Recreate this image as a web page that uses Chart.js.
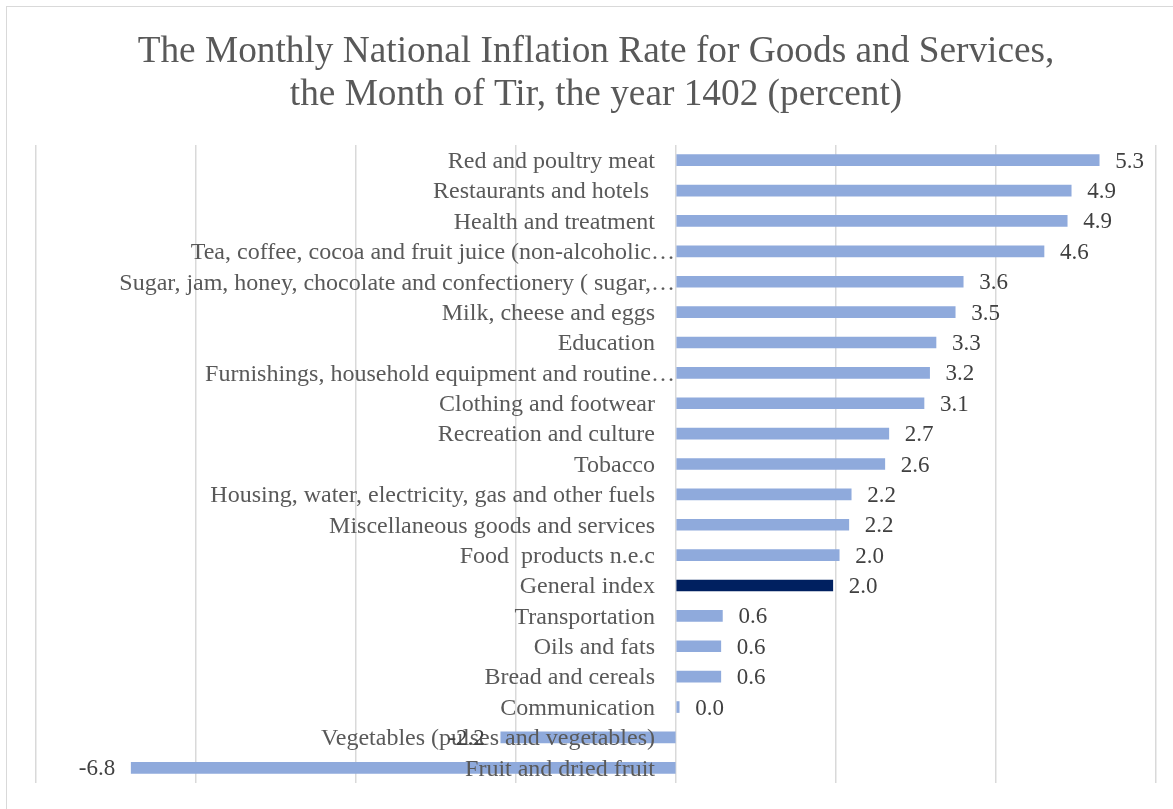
<!DOCTYPE html>
<html>
<head>
<meta charset="utf-8">
<script src="https://cdn.jsdelivr.net/npm/chart.js@4.4.0/dist/chart.umd.min.js"></script>
<style>
    html, body { margin: 0; padding: 0; background: #fff; }
    #wrap { width: 1173px; height: 809px; position: relative; }
</style>
</head>
<body>
<div id="wrap"><canvas id="chart"></canvas></div>
<script>
const titleLines = [
    'The Monthly National Inflation Rate for Goods and Services,',
    'the Month of Tir, the year 1402 (percent)'
]
const categories = [
    'Red and poultry meat',
    'Restaurants and hotels ',
    'Health and treatment',
    'Tea, coffee, cocoa and fruit juice (non-alcoholic…',
    'Sugar, jam, honey, chocolate and confectionery ( sugar,…',
    'Milk, cheese and eggs',
    'Education',
    'Furnishings, household equipment and routine…',
    'Clothing and footwear',
    'Recreation and culture',
    'Tobacco',
    'Housing, water, electricity, gas and other fuels',
    'Miscellaneous goods and services',
    'Food  products n.e.c',
    'General index',
    'Transportation',
    'Oils and fats',
    'Bread and cereals',
    'Communication',
    'Vegetables (pulses and vegetables)',
    'Fruit and dried fruit'
]
const rates = [5.29, 4.94, 4.89, 4.6, 3.59, 3.49, 3.25, 3.17, 3.1, 2.66, 2.61,
    2.19, 2.16, 2.04, 1.96, 0.58, 0.56, 0.56, 0.04, -2.19, -6.81]
const highlight = 'General index'
const xTicks = [-8, 6]

const serif = "'Liberation Serif', 'Times New Roman', serif"

const frame = {
    id: 'frame',
    beforeDraw(chart) {
        const c = chart.ctx
        c.save()
        c.fillStyle = '#fff'
        c.fillRect(0, 0, chart.width, chart.height)
        c.strokeStyle = '#d9d9d9'
        c.lineWidth = 1
        c.strokeRect(6.5, 6.5, chart.width + 20, chart.height + 20)
        c.fillStyle = '#595959'
        c.font = '37.3px ' + serif
        c.textAlign = 'center'
        c.textBaseline = 'alphabetic'
        titleLines.forEach((t, i) => c.fillText(t, 596, 62 + i * 43))
        c.restore()
    }
}

const labels = {
    id: 'labels',
    afterDatasetsDraw(chart) {
        const c = chart.ctx
        const x0 = chart.scales.x.getPixelForValue(0)
        const meta = chart.getDatasetMeta(0)
        c.save()
        c.textBaseline = 'middle'
        categories.forEach((name, i) => {
            const y = chart.scales.y.getPixelForValue(i) + 1.5
            c.font = '24px ' + serif
            c.fillStyle = '#595959'
            c.textAlign = 'right'
            c.fillText(name, name.endsWith('…') ? x0 - 1 : x0 - 21, y)
            const bar = meta.data[i]
            const v = rates[i]
            c.font = '23px ' + serif
            c.fillStyle = '#404040'
            if (v >= 0) {
                c.textAlign = 'left'
                c.fillText(v.toFixed(1), bar.x + 16, y)
            } else {
                c.textAlign = 'right'
                c.fillText(v.toFixed(1), bar.x - 16, y)
            }
        })
        c.restore()
    }
}

new Chart(document.getElementById('chart'), {
    type: 'bar',
    data: {
        labels: categories,
        datasets: [{
            data: rates,
            backgroundColor: categories.map(n => n === highlight ? '#002060' : '#8faadc'),
            barThickness: 11
        }]
    },
    options: {
        indexAxis: 'y',
        responsive: true,
        maintainAspectRatio: false,
        animation: false,
        layout: { padding: { left: 36, right: 17, top: 145, bottom: 26 } },
        plugins: { legend: { display: false }, tooltip: { enabled: false } },
        scales: {
            x: {
                min: xTicks[0],
                max: xTicks[1],
                ticks: { display: false, stepSize: 2 },
                grid: { color: '#d9d9d9', lineWidth: 1.5, drawTicks: false },
                border: { display: false }
            },
            y: { display: false }
        }
    },
    plugins: [frame, labels]
});
</script>
</body>
</html>
